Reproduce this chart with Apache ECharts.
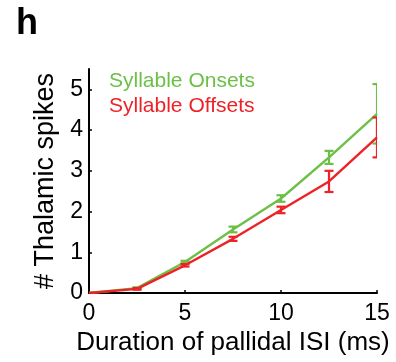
<!DOCTYPE html>
<html><head><meta charset="utf-8">
<script src="https://cdn.jsdelivr.net/npm/echarts@6/dist/echarts.min.js"></script>
<style>html,body{margin:0;padding:0;background:#fff}#c{width:396px;height:362px}</style>
</head><body><div id="c"></div>
<script>
const durations = [0, 2.5, 5, 7.5, 10, 12.5, 15];
const onsets = [0, 0.12, 0.76, 1.56, 2.32, 3.33, 4.40];
const onsetsErr = [0, 0.02, 0.03, 0.07, 0.08, 0.16, 0.73];
const offsets = [0, 0.10, 0.68, 1.33, 2.04, 2.74, 3.82];
const offsetsErr = [0, 0.02, 0.03, 0.05, 0.08, 0.26, 0.49];
const xTicks = [0, 5, 10, 15];
const yTicks = [0, 1, 2, 3, 4, 5];
const GREEN = '#6cbf47', RED = '#ee2226';
const FONT = 'Liberation Sans, Arial, sans-serif';

function errData(vals, errs) {
  return durations.map((d, i) => [d, vals[i] - errs[i], vals[i] + errs[i]]);
}
function errSeries(name, vals, errs, color, z) {
  return {
    type: 'custom', name: name + ' err', clip: true, silent: true, z: z,
    data: errData(vals, errs),
    renderItem: function (params, api) {
      const x = api.value(0);
      const lo = api.coord([x, api.value(1)]);
      const hi = api.coord([x, api.value(2)]);
      const w = 4.5;
      const st = { stroke: color, lineWidth: 2.2 };
      return { type: 'group', children: [
        { type: 'line', shape: { x1: lo[0], y1: lo[1], x2: hi[0], y2: hi[1] }, style: st },
        { type: 'line', shape: { x1: lo[0] - w, y1: lo[1], x2: lo[0] + w, y2: lo[1] }, style: st },
        { type: 'line', shape: { x1: hi[0] - w, y1: hi[1], x2: hi[0] + w, y2: hi[1] }, style: st }
      ]};
    }
  };
}

const chart = echarts.init(document.getElementById('c'));
chart.setOption({
  animation: false,
  grid: { left: 89, right: 19, top: 69, bottom: 69 },
  legend: {
    orient: 'vertical', left: 99, top: 66, itemGap: 4, icon: 'none', itemWidth: 0,
    selectedMode: false,
    data: [
      { name: 'Syllable Onsets', textStyle: { color: GREEN } },
      { name: 'Syllable Offsets', textStyle: { color: RED } }
    ],
    textStyle: { fontFamily: FONT, fontSize: 21 }
  },
  graphic: [{ type: 'text', left: 16, top: 6, style: { text: 'h', font: 'bold 36px ' + FONT, fill: '#000' } }],
  xAxis: {
    type: 'value', min: 0, max: 15,
    name: 'Duration of pallidal ISI (ms)', nameLocation: 'middle', nameGap: 37,
    nameTextStyle: { fontFamily: FONT, fontSize: 26, color: '#000' },
    axisLine: { show: true, onZero: false, lineStyle: { color: '#000', width: 2 } },
    axisTick: { show: true, inside: true, length: 3, customValues: xTicks, lineStyle: { color: '#000', width: 1.5 } },
    axisLabel: { customValues: xTicks, fontFamily: FONT, fontSize: 23, color: '#000', margin: 9 },
    splitLine: { show: false }
  },
  yAxis: {
    type: 'value', min: 0, max: 5.5,
    name: '# Thalamic spikes', nameLocation: 'middle', nameGap: 28, nameRotate: 90,
    nameTextStyle: { fontFamily: FONT, fontSize: 27, color: '#000' },
    axisLine: { show: true, lineStyle: { color: '#000', width: 2 } },
    axisTick: { show: true, inside: true, length: 3, customValues: yTicks, lineStyle: { color: '#000', width: 1.5 } },
    axisLabel: { customValues: yTicks, fontFamily: FONT, fontSize: 23, color: '#000', margin: 6 },
    splitLine: { show: false }
  },
  series: [
    { name: 'Syllable Onsets', type: 'line', data: durations.map((d, i) => [d, onsets[i]]),
      showSymbol: false, lineStyle: { color: GREEN, width: 2.4 }, itemStyle: { color: GREEN }, z: 2 },
    { name: 'Syllable Offsets', type: 'line', data: durations.map((d, i) => [d, offsets[i]]),
      showSymbol: false, lineStyle: { color: RED, width: 2.4 }, itemStyle: { color: RED }, z: 4 },
    errSeries('Syllable Onsets', onsets, onsetsErr, GREEN, 3),
    errSeries('Syllable Offsets', offsets, offsetsErr, RED, 5)
  ]
});
</script></body></html>
